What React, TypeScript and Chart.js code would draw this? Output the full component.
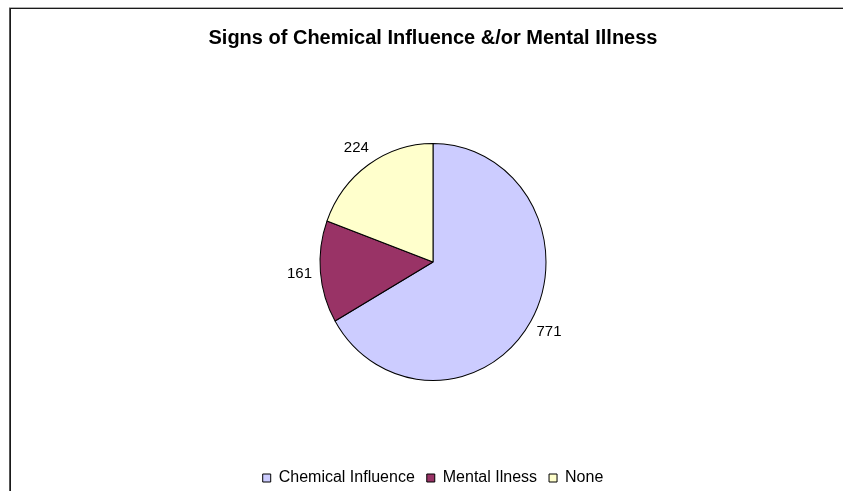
import React, { useEffect, useRef } from "react";
import { Chart, registerables } from "chart.js";

Chart.register(...registerables);

const categories = ["Chemical Influence", "Mental Ilness", "None"];
const values = [771, 161, 224];
const sliceColors = ["#CCCCFF", "#993366", "#FFFFCC"];
const titleText = "Signs of Chemical Influence &/or Mental Illness";

const W = 843;
const H = 520;
const RX = 113;
const RY = 118.5;
const FONT = "'Liberation Sans', Arial, Helvetica, sans-serif";

export default function App() {
  const ref = useRef<HTMLCanvasElement>(null);

  useEffect(() => {
    const canvas = ref.current;
    if (!canvas) return;

    const plugin = {
      id: "customDecor",
      beforeDraw(chart: any) {
        const ctx = chart.ctx;
        ctx.save();
        ctx.fillStyle = "#ffffff";
        ctx.fillRect(0, 0, W, H);
        // frame (top and left edges visible)
        ctx.fillStyle = "#b0b0b0";
        ctx.fillRect(9, 7, W - 9, 1);
        ctx.fillStyle = "#1a1a1a";
        ctx.fillRect(9, 8, W - 9, 1);
        ctx.fillStyle = "#555555";
        ctx.fillRect(9, 8, 1, H);
        ctx.fillStyle = "#1a1a1a";
        ctx.fillRect(10, 8, 1, H);
        ctx.restore();
      },
      beforeDatasetsDraw(chart: any) {
        const ctx = chart.ctx;
        const arc = chart.getDatasetMeta(0).data[0];
        ctx.save();
        ctx.translate(arc.x, arc.y);
        ctx.scale(1, RY / RX);
        ctx.translate(-arc.x, -arc.y);
      },
      afterDatasetsDraw(chart: any) {
        const ctx = chart.ctx;
        ctx.restore();
        const meta = chart.getDatasetMeta(0);
        ctx.save();
        ctx.font = `15px ${FONT}`;
        ctx.fillStyle = "#000";
        ctx.textAlign = "center";
        ctx.textBaseline = "middle";
        meta.data.forEach((a: any, i: number) => {
          const mid = (a.startAngle + a.endAngle) / 2;
          const lx = a.x + Math.cos(mid) * (RX + 21);
          const ly = a.y + Math.sin(mid) * (RY + 21);
          ctx.fillText(String(values[i]), lx, ly);
        });
        ctx.restore();
      },
    };

    const chart = new Chart(canvas, {
      type: "pie",
      data: {
        labels: categories,
        datasets: [
          {
            data: values,
            backgroundColor: sliceColors,
            borderColor: "#000000",
            borderWidth: 1,
            radius: RX,
          } as any,
        ],
      },
      options: {
        responsive: false,
        animation: false,
        devicePixelRatio: 1,
        layout: { padding: { left: 23, right: 0, top: 0, bottom: 24 } },
        plugins: {
          title: {
            display: true,
            text: titleText,
            color: "#000",
            font: { family: FONT, size: 20, weight: "bold" },
            padding: { top: 26, bottom: 16 },
          },
          legend: {
            display: true,
            position: "bottom",
            labels: {
              boxWidth: 8,
              boxHeight: 8,
              padding: 12,
              color: "#000",
              font: { family: FONT, size: 16 },
            },
          },
          tooltip: { enabled: false },
        },
      } as any,
      plugins: [plugin],
    });

    return () => chart.destroy();
  }, []);

  return (
    <div
      style={{
        position: "fixed",
        left: 0,
        top: 0,
        width: W,
        height: 491,
        overflow: "hidden",
        background: "#fff",
      }}
    >
      <canvas ref={ref} width={W} height={H} style={{ display: "block" }} />
    </div>
  );
}
